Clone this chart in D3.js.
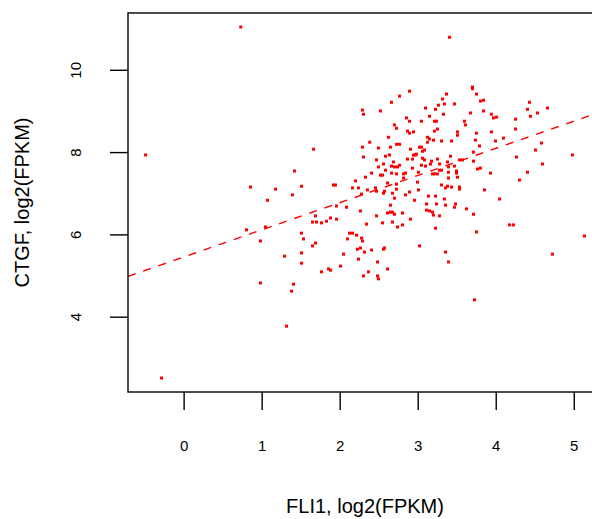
<!DOCTYPE html>
<html><head><meta charset="utf-8">
<script src="https://cdn.jsdelivr.net/npm/d3@7"></script>
<style>body{margin:0;background:#fff}svg{display:block}</style>
</head><body><svg id="c" width="592" height="519"></svg>
<script>
// FLI1 expression, log2(FPKM)
const fli1 = [
-0.488,0.857,1.178,1.075,0.806,1.049,0.985,1.293,0.985,1.319,-0.283,0.732,
2.292,2.305,2.385,1.665,2.292,2.305,1.421,2.331,
3.407,2.895,3.369,2.767,3.318,2.664,3.266,3.343,3.100,3.228,2.523,3.330,3.151,2.856,2.895,3.048,3.215,3.241,
2.702,2.728,3.253,2.869,2.946,2.895,3.215,3.125,3.151,2.626,3.125,3.202,3.305,2.728,2.767,2.497,2.651,2.907,
3.023,3.048,3.087,3.061,2.984,2.946,2.972,2.587,2.638,2.869,2.933,3.061,3.087,3.177,3.253,2.472,2.561,2.690,
2.664,2.702,2.767,2.741,3.048,3.100,3.164,3.279,3.382,2.497,2.933,2.587,3.394,2.408,2.523,2.549,2.664,2.728,
2.818,2.843,3.010,3.189,3.215,3.253,3.279,3.305,3.394,2.818,3.394,
3.702,3.702,3.753,3.471,3.804,3.843,4.432,4.407,4.663,3.676,3.843,3.945,4.535,3.971,4.009,4.445,4.253,3.599,
3.612,4.253,3.945,3.753,3.510,3.510,4.099,3.740,3.997,3.433,4.586,3.792,4.509,3.715,4.983,4.266,3.420,3.535,
3.574,3.715,4.599,3.471,3.766,3.804,3.497,3.497,3.933,4.407,3.510,4.304,
2.203,1.511,1.921,1.946,2.164,2.241,2.356,1.395,2.280,1.959,2.087,2.267,1.690,1.882,1.959,1.652,1.703,1.767,
1.831,2.344,1.511,2.126,2.164,2.216,1.536,2.100,2.280,2.292,1.690,1.652,2.267,2.228,2.318,1.511,2.049,2.241,
1.511,2.011,1.857,1.882,1.767,2.369,2.305,1.408,1.383,
2.997,2.613,2.728,3.305,3.382,3.356,2.459,2.728,3.010,2.472,2.574,2.561,2.677,2.895,2.843,3.138,3.228,2.702,
2.959,3.343,2.651,3.113,3.241,3.356,3.113,3.151,3.189,2.613,2.651,2.677,2.702,2.805,3.202,3.279,2.472,2.907,
2.549,2.677,2.805,2.741,3.228,3.023,2.408,2.574,2.561,3.356,2.485,3.394,2.613,2.485,2.497,
3.433,3.535,3.535,3.856,4.048,3.484,3.471,3.625,3.715,4.176,4.227,3.753,5.137,4.727,3.728
];
// CTGF expression, log2(FPKM)
const ctgf = [
7.93,7.15,7.10,6.83,6.11,6.18,5.84,5.47,4.82,3.77,2.51,11.04,
9.02,8.92,8.24,8.07,8.12,7.88,7.54,7.39,
10.79,9.48,9.41,9.36,9.29,9.21,9.14,9.17,9.07,9.04,9.00,8.92,8.87,8.83,8.75,8.75,8.75,8.75,
8.66,8.58,8.56,8.51,8.49,8.46,8.51,8.36,8.32,8.36,8.24,8.29,8.27,8.19,8.19,8.10,8.12,8.07,
8.12,8.12,8.05,8.02,7.95,7.93,7.93,7.90,7.93,7.83,7.83,7.85,7.81,7.78,7.83,7.81,7.71,7.76,
7.66,7.64,7.68,7.64,7.68,7.66,7.71,7.71,7.76,7.64,7.61,7.56,7.64,7.49,7.44,7.44,7.49,7.47,
7.47,7.49,7.51,7.47,7.47,7.47,7.56,7.56,7.51,7.37,7.37,
9.58,9.54,9.41,9.17,9.24,9.26,9.21,9.04,9.07,8.95,9.00,8.92,8.95,8.83,8.85,8.87,8.80,8.75,
8.66,8.56,8.49,8.46,8.49,8.41,8.34,8.29,8.27,8.27,8.22,8.15,8.05,8.00,7.93,7.88,7.90,7.81,
7.81,7.78,7.71,7.66,7.59,7.61,7.54,7.49,7.49,7.51,7.39,7.32,
7.30,7.17,7.20,7.20,7.13,7.13,7.08,6.96,6.98,6.69,6.66,6.57,6.45,6.40,6.37,6.30,6.30,6.28,
6.32,6.25,6.03,6.03,6.03,5.98,5.89,5.89,5.91,5.84,5.79,5.72,5.67,5.64,5.57,5.55,5.52,5.40,
5.30,5.23,5.16,5.13,5.09,5.09,4.99,4.79,4.62,
7.27,7.25,7.22,7.20,7.17,7.13,7.13,7.10,7.08,7.05,7.05,7.00,7.00,7.03,6.96,6.93,6.93,6.88,
6.83,6.86,6.71,6.74,6.74,6.71,6.59,6.57,6.54,6.52,6.54,6.54,6.49,6.52,6.47,6.45,6.45,6.37,
6.28,6.30,6.23,6.18,6.15,5.72,5.62,5.67,5.64,5.57,5.33,5.33,5.16,4.99,4.92,
7.15,7.15,7.10,7.08,6.86,6.74,6.66,6.62,6.49,6.23,6.23,6.06,5.96,5.52,4.41
];
const xTicks = [0, 1, 2, 3, 4, 5];
const yTicks = [4, 6, 8, 10];
const fitIntercept = 5.45;
const fitSlope = 0.66;
const xTitle = "FLI1, log2(FPKM)";
const yTitle = "CTGF, log2(FPKM)";

const svg = d3.select("#c");
const L = 128, R = 602, T = 13, B = 392;
const x = d3.scaleLinear().domain([-0.713, 5.362]).range([L, R]);
const y = d3.scaleLinear().domain([2.17, 11.38]).range([B, T]);
const font = "'Liberation Sans', Arial, Helvetica, sans-serif";

svg.append("defs").append("clipPath").attr("id", "clip")
  .append("rect").attr("x", L).attr("y", T).attr("width", R - L).attr("height", B - T);

// points
svg.append("g").attr("fill", "#ff0000")
  .selectAll("rect").data(d3.range(fli1.length)).join("rect")
  .attr("x", i => x(fli1[i]) - 1.5).attr("y", i => y(ctgf[i]) - 1.5)
  .attr("width", 3).attr("height", 3);

// regression line
const dom = x.domain();
svg.append("line").attr("clip-path", "url(#clip)")
  .attr("x1", x(dom[0])).attr("y1", y(fitIntercept + fitSlope * dom[0]))
  .attr("x2", x(dom[1])).attr("y2", y(fitIntercept + fitSlope * dom[1]))
  .attr("stroke", "#ff0000").attr("stroke-width", 1.4).attr("stroke-dasharray", "8,8");

// box
svg.append("rect").attr("x", L).attr("y", T).attr("width", R - L).attr("height", B - T)
  .attr("fill", "none").attr("stroke", "#000").attr("stroke-width", 1.4);

// x axis
const xa = svg.append("g").attr("transform", `translate(0,${B})`)
  .call(d3.axisBottom(x).tickValues(xTicks).tickSize(18).tickPadding(30).tickFormat(d3.format("d")));
xa.select(".domain").remove();
xa.selectAll("line").attr("stroke", "#000").attr("stroke-width", 1.4);
xa.selectAll("text").attr("font-family", font).attr("font-size", 15).attr("fill", "#000");

// y axis
const ya = svg.append("g").attr("transform", `translate(${L},0)`)
  .call(d3.axisLeft(y).tickValues(yTicks).tickSize(18).tickFormat(d3.format("d")));
ya.select(".domain").remove();
ya.selectAll("line").attr("stroke", "#000").attr("stroke-width", 1.4);
ya.selectAll("text").remove();
ya.selectAll(".tick").append("text")
  .attr("transform", `translate(${80.5 - L},0) rotate(-90)`)
  .attr("text-anchor", "middle").attr("font-family", font).attr("font-size", 15).attr("fill", "#000")
  .text(d => d);

// titles
svg.append("text").attr("x", (L + R) / 2).attr("y", 513).attr("text-anchor", "middle")
  .attr("font-family", font).attr("font-size", 20).attr("fill", "#000").text(xTitle);
svg.append("text").attr("transform", `translate(29,${(T + B) / 2}) rotate(-90)`).attr("text-anchor", "middle")
  .attr("font-family", font).attr("font-size", 20).attr("fill", "#000").text(yTitle);
</script></body></html>
